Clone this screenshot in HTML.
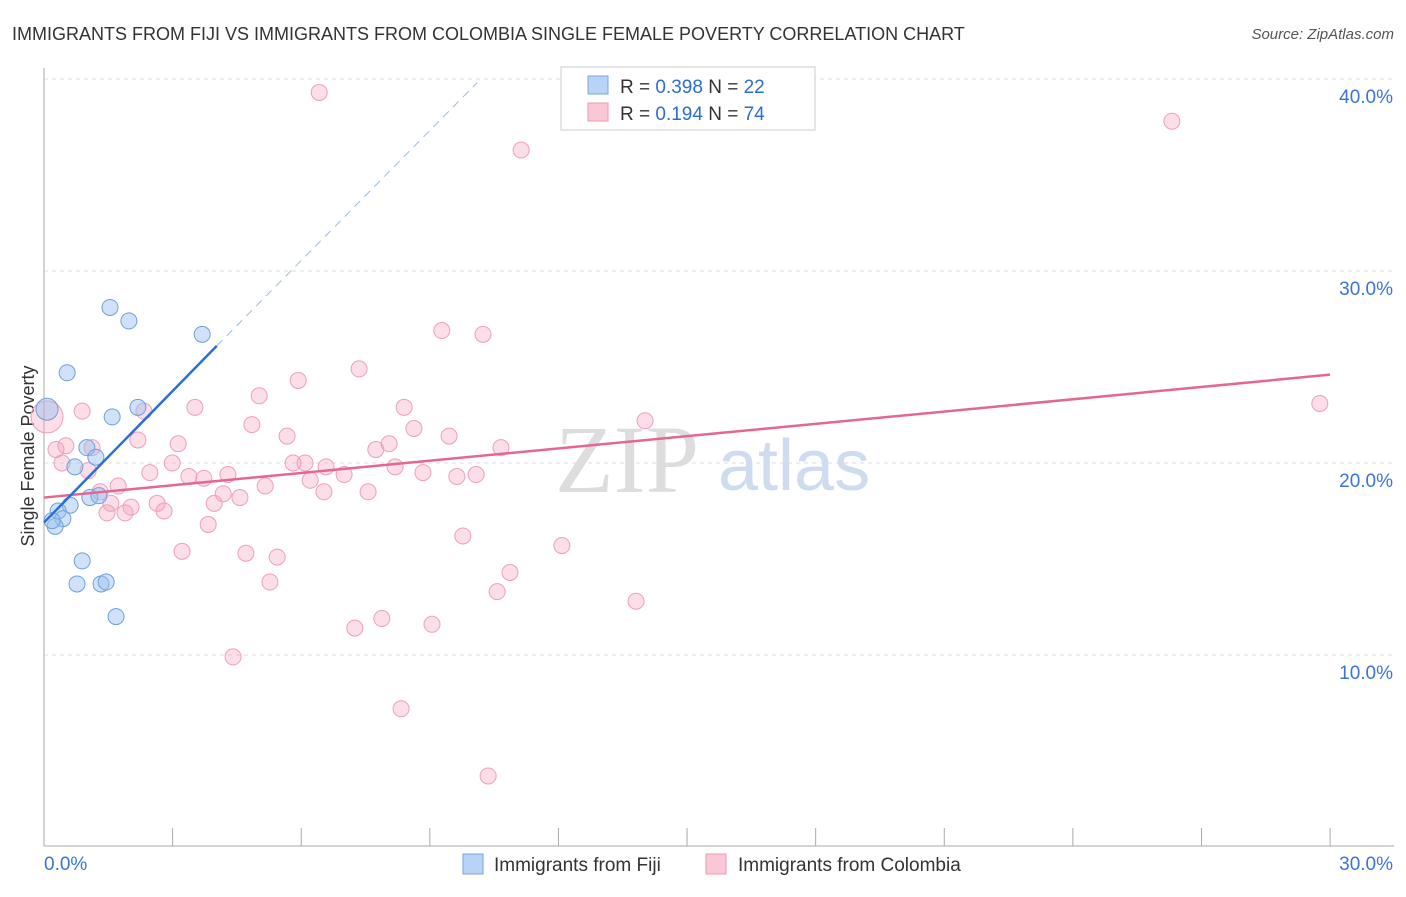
<!DOCTYPE html>
<html><head><meta charset="utf-8"><style>
body{margin:0;background:#fff;font-family:"Liberation Sans",sans-serif}
</style></head><body>
<svg id="chart" width="1406" height="892" xmlns="http://www.w3.org/2000/svg" font-family="Liberation Sans, sans-serif">
<text x="12" y="40" font-size="18" fill="#333">IMMIGRANTS FROM FIJI VS IMMIGRANTS FROM COLOMBIA SINGLE FEMALE POVERTY CORRELATION CHART</text>
<text x="1394" y="39" font-size="15" fill="#555" text-anchor="end" font-style="italic">Source: ZipAtlas.com</text>
<text transform="translate(34,456) rotate(-90)" font-size="18" fill="#333" text-anchor="middle">Single Female Poverty</text>
<g id="grid"></g>
<text x="555" y="492" font-size="96" fill="#ddd" font-family="Liberation Serif, serif">ZIP</text>
<text x="718" y="490" font-size="72" fill="#cfdcf0">atlas</text>
<g id="marks"></g>
<g>
<rect x="561" y="67" width="254" height="63" fill="#fff" stroke="#ccc"/>
<rect x="588" y="76" width="20" height="18" fill="#b8d3f5" stroke="#7aa7e0"/>
<text x="620" y="93" font-size="19" fill="#333">R = <tspan fill="#2a6dd6">0.398</tspan>   N = <tspan fill="#2a6dd6">22</tspan></text>
<rect x="588" y="103" width="20" height="18" fill="#f9c8d6" stroke="#ee9ab2"/>
<text x="620" y="120" font-size="19" fill="#333">R =  <tspan fill="#2a6dd6">0.194</tspan>   N = <tspan fill="#2a6dd6">74</tspan></text>
</g>
<g>
<rect x="463" y="854" width="20" height="20" fill="#b8d3f5" stroke="#7aa7e0"/>
<text x="494" y="871" font-size="19" fill="#333">Immigrants from Fiji</text>
<rect x="706" y="854" width="20" height="20" fill="#f9c8d6" stroke="#ee9ab2"/>
<text x="738" y="871" font-size="19" fill="#333">Immigrants from Colombia</text>
</g>
</svg>
<script>
const yTicks=[10,20,30,40];
const xTickLabels=["0.0%","30.0%"];
const fijiX=[0.07,0.54,1.54,1.98,3.69,1.59,2.19,1.0,1.21,0.72,1.07,1.28,0.61,0.33,0.44,0.26,0.89,0.77,1.33,1.45,1.68,0.19];
const fijiY=[22.8,24.7,28.1,27.4,26.7,22.4,22.9,20.8,20.3,19.8,18.2,18.3,17.8,17.5,17.1,16.7,14.9,13.7,13.7,13.8,12.0,17.0];
const colX=[6.42,11.13,26.31,29.76,9.28,10.24,7.35,5.93,5.02,8.40,3.52,2.33,0.89,4.85,8.63,5.67,9.45,8.05,7.74,10.66,14.02,2.19,3.13,1.12,0.51,0.28,0.42,1.03,2.47,2.99,4.29,3.38,3.73,5.81,6.09,6.58,7.0,8.19,8.84,9.63,10.08,6.21,5.16,1.73,1.31,4.18,4.57,6.53,7.56,2.64,3.97,2.03,1.56,1.47,1.89,2.80,3.83,3.22,4.71,5.44,9.77,12.08,5.27,10.87,10.57,13.81,7.88,7.25,9.05,4.41,8.33,10.36,0.07];
const colY=[39.3,36.3,37.8,23.1,26.9,26.7,24.9,24.3,23.5,22.9,22.9,22.7,22.7,22.0,21.8,21.4,21.4,21.0,20.7,20.8,22.2,21.2,21.0,20.8,20.9,20.7,20.0,19.6,19.5,20.0,19.4,19.3,19.2,20.0,20.0,19.8,19.4,19.8,19.5,19.3,19.4,19.1,18.8,18.8,18.5,18.4,18.2,18.5,18.5,17.9,17.9,17.7,17.9,17.4,17.4,17.5,16.8,15.4,15.3,15.1,16.2,15.7,13.8,14.3,13.3,12.8,11.9,11.4,11.6,9.9,7.2,3.7,22.4];
const fijiTrend=[[0,16.9],[4.03,26.1]];
const fijiDash=[[4.03,26.1],[10.1,39.8]];
const colTrend=[[0,18.2],[30,24.6]];
const NS="http://www.w3.org/2000/svg";
const x=v=>44+v*42.87, y=v=>847-v*19.2;
const grid=document.getElementById('grid'), marks=document.getElementById('marks');
function mk(tag,attrs,parent){const e=document.createElementNS(NS,tag);for(const k in attrs)e.setAttribute(k,attrs[k]);parent.appendChild(e);return e;}
yTicks.forEach(t=>{
 const l=mk('line',{x1:44,x2:1394,y1:y(t),y2:y(t),stroke:'#ddd','stroke-dasharray':'4,4'},grid);
 
 
 const tx=mk('text',{x:1393,y:y(t)+24,'font-size':19,fill:'#3a74d6','text-anchor':'end'},grid);
 tx.textContent=t.toFixed(1)+'%';
 
 
});
const ax=mk('line',{x1:44,x2:44,y1:68,y2:846,stroke:'#aaa'},grid);


const bx=mk('line',{x1:44,x2:1394,y1:846,y2:846,stroke:'#aaa'},grid);


for(let i=0;i<=10;i++){const t=mk('line',{x1:x(i*3),x2:x(i*3),y1:828,y2:846,stroke:'#aaa'},grid);
 
 }
xTickLabels.forEach((s,i)=>{const t=mk('text',{x:i?1393:44,y:870,'font-size':19,fill:'#3a74d6','text-anchor':i?'end':'start'},grid);t.textContent=s;
 
 });
colX.forEach((v,i)=>{const r=i==colX.length-1?16:8;const c=mk('circle',{cx:x(v),cy:y(colY[i]),r:r,fill:'rgba(244,160,186,0.35)',stroke:'#eea0b8','stroke-width':1},marks);
 
 });
fijiX.forEach((v,i)=>{const r=i==0?11:8;const c=mk('circle',{cx:x(v),cy:y(fijiY[i]),r:r,fill:'rgba(150,190,240,0.45)',stroke:'#6f9fdc','stroke-width':1},marks);
 
 });
let l1=mk('line',{x1:x(colTrend[0][0]),y1:y(colTrend[0][1]),x2:x(colTrend[1][0]),y2:y(colTrend[1][1]),stroke:'#e4678f','stroke-width':2.5},marks);


let l2=mk('line',{x1:x(fijiTrend[0][0]),y1:y(fijiTrend[0][1]),x2:x(fijiTrend[1][0]),y2:y(fijiTrend[1][1]),stroke:'#2a6fd6','stroke-width':2.5},marks);


let l3=mk('line',{x1:x(fijiDash[0][0]),y1:y(fijiDash[0][1]),x2:x(fijiDash[1][0]),y2:y(fijiDash[1][1]),stroke:'#9bbbe8','stroke-width':1,'stroke-dasharray':'8,6'},marks);


</script>
</body></html>
